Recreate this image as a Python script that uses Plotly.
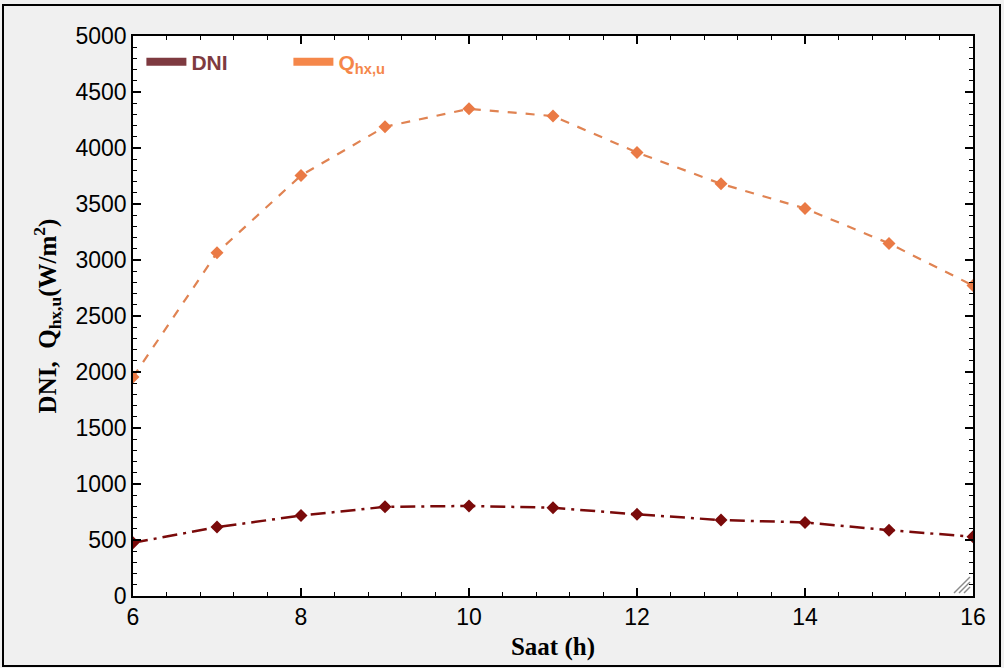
import plotly.graph_objects as go

hours = [6, 7, 8, 9, 10, 11, 12, 13, 14, 15, 16]
dni = [475, 615, 718, 796, 804, 788, 729, 678, 657, 588, 529]
q_hx_u = [1955, 3065, 3755, 4190, 4350, 4285, 3960, 3680, 3460, 3148, 2772]

x_ticks = [6, 8, 10, 12, 14, 16]
y_ticks = [0, 500, 1000, 1500, 2000, 2500, 3000, 3500, 4000, 4500, 5000]

DNI_LINE = "#7a0a0a"
Q_LINE = "#e08352"
DNI_LEG = "#7e3a40"
Q_LEG = "#f5874a"

fig = go.Figure()

fig.add_trace(go.Scatter(
    x=hours, y=dni, mode="lines+markers", showlegend=False,
    line=dict(color=DNI_LINE, width=2.5, dash="longdashdot"),
    marker=dict(symbol="diamond", size=10, color=DNI_LINE),
))
fig.add_trace(go.Scatter(
    x=hours, y=q_hx_u, mode="lines+markers", showlegend=False,
    line=dict(color=Q_LINE, width=2.2, dash="dash"),
    marker=dict(symbol="diamond", size=10, color="#ea7a45"),
))
fig.add_trace(go.Scatter(
    x=[None], y=[None], mode="lines",
    name=f"<span style='color:{DNI_LEG}'><b>DNI</b></span>",
    line=dict(color=DNI_LEG, width=8),
))
fig.add_trace(go.Scatter(
    x=[None], y=[None], mode="lines",
    name=f"<span style='color:{Q_LEG}'><b>Q<sub>hx,u</sub></b></span>",
    line=dict(color=Q_LEG, width=8),
))

W, H = 1004, 668
L, R, T, B = 133, 31, 36, 72
pw, ph = W - L - R, H - T - B

def px(x):
    return (x - L) / pw

def py(y):
    return (H - B - y) / ph

fig.update_xaxes(
    range=[6, 16], tickvals=x_ticks, ticktext=[str(v) for v in x_ticks],
    showgrid=False, zeroline=False, showline=True, linecolor="black", linewidth=1.5,
    mirror="allticks", ticks="inside", ticklen=8, tickwidth=1.5, tickcolor="black",
    tickfont=dict(family="Liberation Sans, Arial", size=23, color="black"),
    minor=dict(ticks="inside", dtick=0.4, ticklen=4, tickwidth=1.3, tickcolor="black"),
    title=dict(text="<b>Saat (h)</b>", font=dict(family="Liberation Serif, Times New Roman", size=25, color="black"), standoff=8),
)
fig.update_yaxes(
    range=[0, 5000], tickvals=y_ticks, ticktext=[str(v) for v in y_ticks],
    showgrid=False, zeroline=False, showline=True, linecolor="black", linewidth=1.5,
    mirror="allticks", ticks="inside", ticklen=8, tickwidth=1.5, tickcolor="black",
    tickfont=dict(family="Liberation Sans, Arial", size=23, color="black"),
    minor=dict(ticks="inside", dtick=100, ticklen=4, tickwidth=1.3, tickcolor="black"),
    title=dict(text="<b>DNI,  Q<sub>hx,u</sub>(W/m<sup>2</sup>)</b>", font=dict(family="Liberation Serif, Times New Roman", size=25, color="black"), standoff=12),
)

# outer frame of the image (drawn above; transparent fill)
fig.add_shape(type="rect", xref="paper", yref="paper",
              x0=px(3), x1=px(1000), y0=py(666), y1=py(5),
              line=dict(color="black", width=2), fillcolor="rgba(0,0,0,0)", layer="above")

# resize-grip hatch at bottom-right corner of the plot frame
for off in (0, 5, 10):
    fig.add_shape(type="line", xref="paper", yref="paper",
                  x0=px(954 + off), y0=py(593), x1=px(970), y1=py(577 + off),
                  line=dict(color="#8a8a8a", width=1.5))

fig.update_layout(
    width=W, height=H,
    margin=dict(l=L, r=R, t=T, b=B),
    paper_bgcolor="#f0f0f0", plot_bgcolor="white",
    legend=dict(orientation="h", x=0.01, y=0.99, xanchor="left", yanchor="top",
                bgcolor="rgba(0,0,0,0)", font=dict(family="Liberation Sans, Arial", size=21),
                entrywidth=92, itemwidth=40),
    showlegend=True,
)

fig.write_html("out.html", config={"displayModeBar": False},
               post_script="document.body.style.margin='0';document.body.style.overflow='hidden';")
